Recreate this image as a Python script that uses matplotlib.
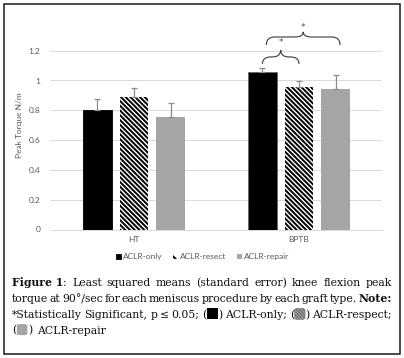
import matplotlib
matplotlib.use("Agg")
import matplotlib.pyplot as plt
import numpy as np
from matplotlib.patches import Rectangle, FancyBboxPatch, PathPatch, Patch
from matplotlib.path import Path

# ---------------- data ----------------
categories = ["HT", "BPTB"]
series = ["ACLR-only", "ACLR-resect", "ACLR-repair"]
means_only = [0.80, 1.055]
means_resect = [0.89, 0.955]
means_repair = [0.755, 0.94]
se_only = [0.075, 0.027]
se_resect = [0.062, 0.04]
se_repair = [0.092, 0.10]
yticks = [0, 0.2, 0.4, 0.6, 0.8, 1.0, 1.2]
ytick_labels = ["0", "0.2", "0.4", "0.6", "0.8", "1", "1.2"]
ylabel = "Peak Torque N/m"

plt.rcParams['hatch.linewidth'] = 1.4
plt.rcParams['font.family'] = ['Lato', 'DejaVu Sans']

W, H = 404, 358
fig = plt.figure(figsize=(W / 100, H / 100), dpi=100)
fig.patch.set_facecolor('white')

ax = fig.add_axes([50 / W, (H - 229.5) / H, 332 / W, 208.6 / H])
x = np.arange(len(categories))
bw = 0.175
off = 0.222
err_kw = dict(ecolor='#8c8c8c', elinewidth=0.9, capsize=2.3, capthick=0.9)

HATCH = '\\' * 7

b1 = ax.bar(x - off, means_only, bw, color='black', edgecolor='black', linewidth=0.6,
            yerr=[np.zeros(2), se_only], error_kw=err_kw, label=series[0], zorder=2)
b1[1].set_edgecolor('#666666')
b2 = ax.bar(x, means_resect, bw, color='white', edgecolor='black', linewidth=0,
            hatch=HATCH, yerr=[np.zeros(2), se_resect], error_kw=err_kw,
            label=series[1], zorder=2)
b3 = ax.bar(x + off, means_repair, bw, color='#a5a5a5', edgecolor='#a5a5a5', linewidth=0,
            yerr=[np.zeros(2), se_repair], error_kw=err_kw, label=series[2], zorder=2)

ax.set_xlim(-0.509, 1.503)
ax.set_ylim(0, 1.4)
ax.set_yticks(yticks)
ax.set_yticklabels(ytick_labels)
ax.set_xticks(x)
ax.set_xticklabels(categories)
ax.tick_params(axis='both', length=0, labelsize=6, labelcolor='#595959')
ax.tick_params(axis='y', pad=7)
ax.tick_params(axis='x', pad=5)
ax.grid(axis='y', color='#d9d9d9', linewidth=0.7, zorder=0)
ax.set_axisbelow(True)
for s in ['top', 'right', 'left']:
    ax.spines[s].set_visible(False)
ax.spines['bottom'].set_color('#d9d9d9')
ax.spines['bottom'].set_linewidth(0.7)
ax.set_ylabel(ylabel, fontsize=6, color='#595959', labelpad=4)


# ---------------- significance braces ----------------
def brace(x0, x1, yb, yh, yt, r):
    xm = (x0 + x1) / 2
    verts = [(x0, yb), (x0, yh), (x0 + r, yh),
             (xm - r, yh),
             (xm, yh), (xm, yt),
             (xm, yh), (xm + r, yh),
             (x1 - r, yh),
             (x1, yh), (x1, yb)]
    codes = [Path.MOVETO, Path.CURVE3, Path.CURVE3,
             Path.LINETO,
             Path.CURVE3, Path.CURVE3,
             Path.CURVE3, Path.CURVE3,
             Path.LINETO,
             Path.CURVE3, Path.CURVE3]
    p = PathPatch(Path(verts, codes), fill=False, edgecolor='#3a3a3a',
                  linewidth=0.8, clip_on=False, zorder=5)
    ax.add_patch(p)
    return xm

xm1 = brace(1 - off, 1.0, 1.111, 1.158, 1.205, 0.05)
ax.text(xm1, 1.258, '*', ha='center', va='center', fontsize=6.5, color='#505050',
        clip_on=False, family='DejaVu Sans')
xm2 = brace(1 - off + 0.024, 1 + off + 0.027, 1.238, 1.292, 1.326, 0.05)
ax.text(xm2, 1.358, '*', ha='center', va='center', fontsize=6.5, color='#505050',
        clip_on=False, family='DejaVu Sans')

# ---------------- legend ----------------
h_resect = Patch(facecolor='white', edgecolor='black', linewidth=0, hatch='\\\\')
leg = fig.legend(handles=[b1, h_resect, b3], labels=series, loc='center',
                 bbox_to_anchor=(202.5 / W, 1 - 256.7 / H), ncol=3, frameon=False,
                 fontsize=6, handlelength=0.6, handleheight=0.6, handletextpad=0.3,
                 columnspacing=1.2, labelcolor='#595959')

# ---------------- outer border ----------------
fig.add_artist(Rectangle((3.5 / W, 1 - 353.5 / H), 396 / W, 350 / H, transform=fig.transFigure,
                         fill=False, edgecolor='#1a1a1a', linewidth=1.1))

# ---------------- caption (justified) ----------------
serif = ['DejaVu Serif']
cfs = 7.8
lines = [
    ([[('t', 'Figure 1', 'bold'), ('t', ':', 'normal')], 'Least', 'squared', 'means', '(standard',
      'error)', 'knee', 'flexion', 'peak'], True, 286.5),
    (['torque', 'at', '90°/sec', 'for', 'each', 'meniscus', 'procedure', 'by', 'each', 'graft',
      'type.', [('t', 'Note:', 'bold')]], True, 302.2),
    (['*Statistically', 'Significant,', 'p', '≤', '0.05;',
      [('t', '(', 'normal'), ('box', 'black'), ('t', ')', 'normal')], 'ACLR-only;',
      [('t', '(', 'normal'), ('box', 'hatch'), ('t', ')', 'normal')], 'ACLR-respect;'], True, 317.9),
    ([[('t', '(', 'normal'), ('box', 'gray'), ('t', ')', 'normal')], 'ACLR-repair'], False, 333.6),
]

fig.canvas.draw()
renderer = fig.canvas.get_renderer()


def text_width(s, weight):
    t = fig.text(0, 0, s, fontsize=cfs, family=serif, weight=weight)
    w = t.get_window_extent(renderer).width
    t.remove()
    return w

BOXW = 10.5
BOXH = 11.0


def part_width(p):
    if p[0] == 't':
        return text_width(p[1], p[2])
    return BOXW + 1.0


def norm(tok):
    if isinstance(tok, str):
        return [('t', tok, 'normal')]
    return tok

space_w = text_width('a a', 'normal') - text_width('aa', 'normal')
X0, X1 = 12.0, 392.0
for toks, justify, base in lines:
    toks = [norm(t) for t in toks]
    widths = [sum(part_width(p) for p in t) for t in toks]
    if justify:
        gap = (X1 - X0 - sum(widths)) / (len(toks) - 1)
    else:
        gap = space_w * 1.3
    xc = X0
    for t, w in zip(toks, widths):
        xp = xc
        for p in t:
            pw = part_width(p)
            if p[0] == 't':
                fig.text(xp / W, 1 - base / H, p[1], fontsize=cfs, family=serif,
                         weight=p[2], va='baseline', ha='left', color='#111111')
            else:
                bx = xp + 0.5
                by = base + 1.5
                if p[1] == 'black':
                    fig.add_artist(Rectangle((bx / W, 1 - by / H), BOXW / W, BOXH / H,
                                             transform=fig.transFigure, facecolor='black',
                                             edgecolor='black', linewidth=0))
                elif p[1] == 'gray':
                    fig.add_artist(FancyBboxPatch((bx / W, 1 - by / H), BOXW / W, BOXH / H,
                                                  boxstyle='round,pad=0,rounding_size=0.006',
                                                  transform=fig.transFigure, facecolor='#a5a5a5',
                                                  edgecolor='#a5a5a5', linewidth=0))
                else:
                    fig.add_artist(FancyBboxPatch((bx / W, 1 - by / H), BOXW / W, BOXH / H,
                                                  boxstyle='round,pad=0,rounding_size=0.006',
                                                  transform=fig.transFigure, facecolor='#cfcfcf',
                                                  edgecolor='#777777', linewidth=0.4,
                                                  hatch='\\' * 10))
            xp += pw
        xc += w + gap

fig.savefig('out.png', dpi=100, facecolor='white')
